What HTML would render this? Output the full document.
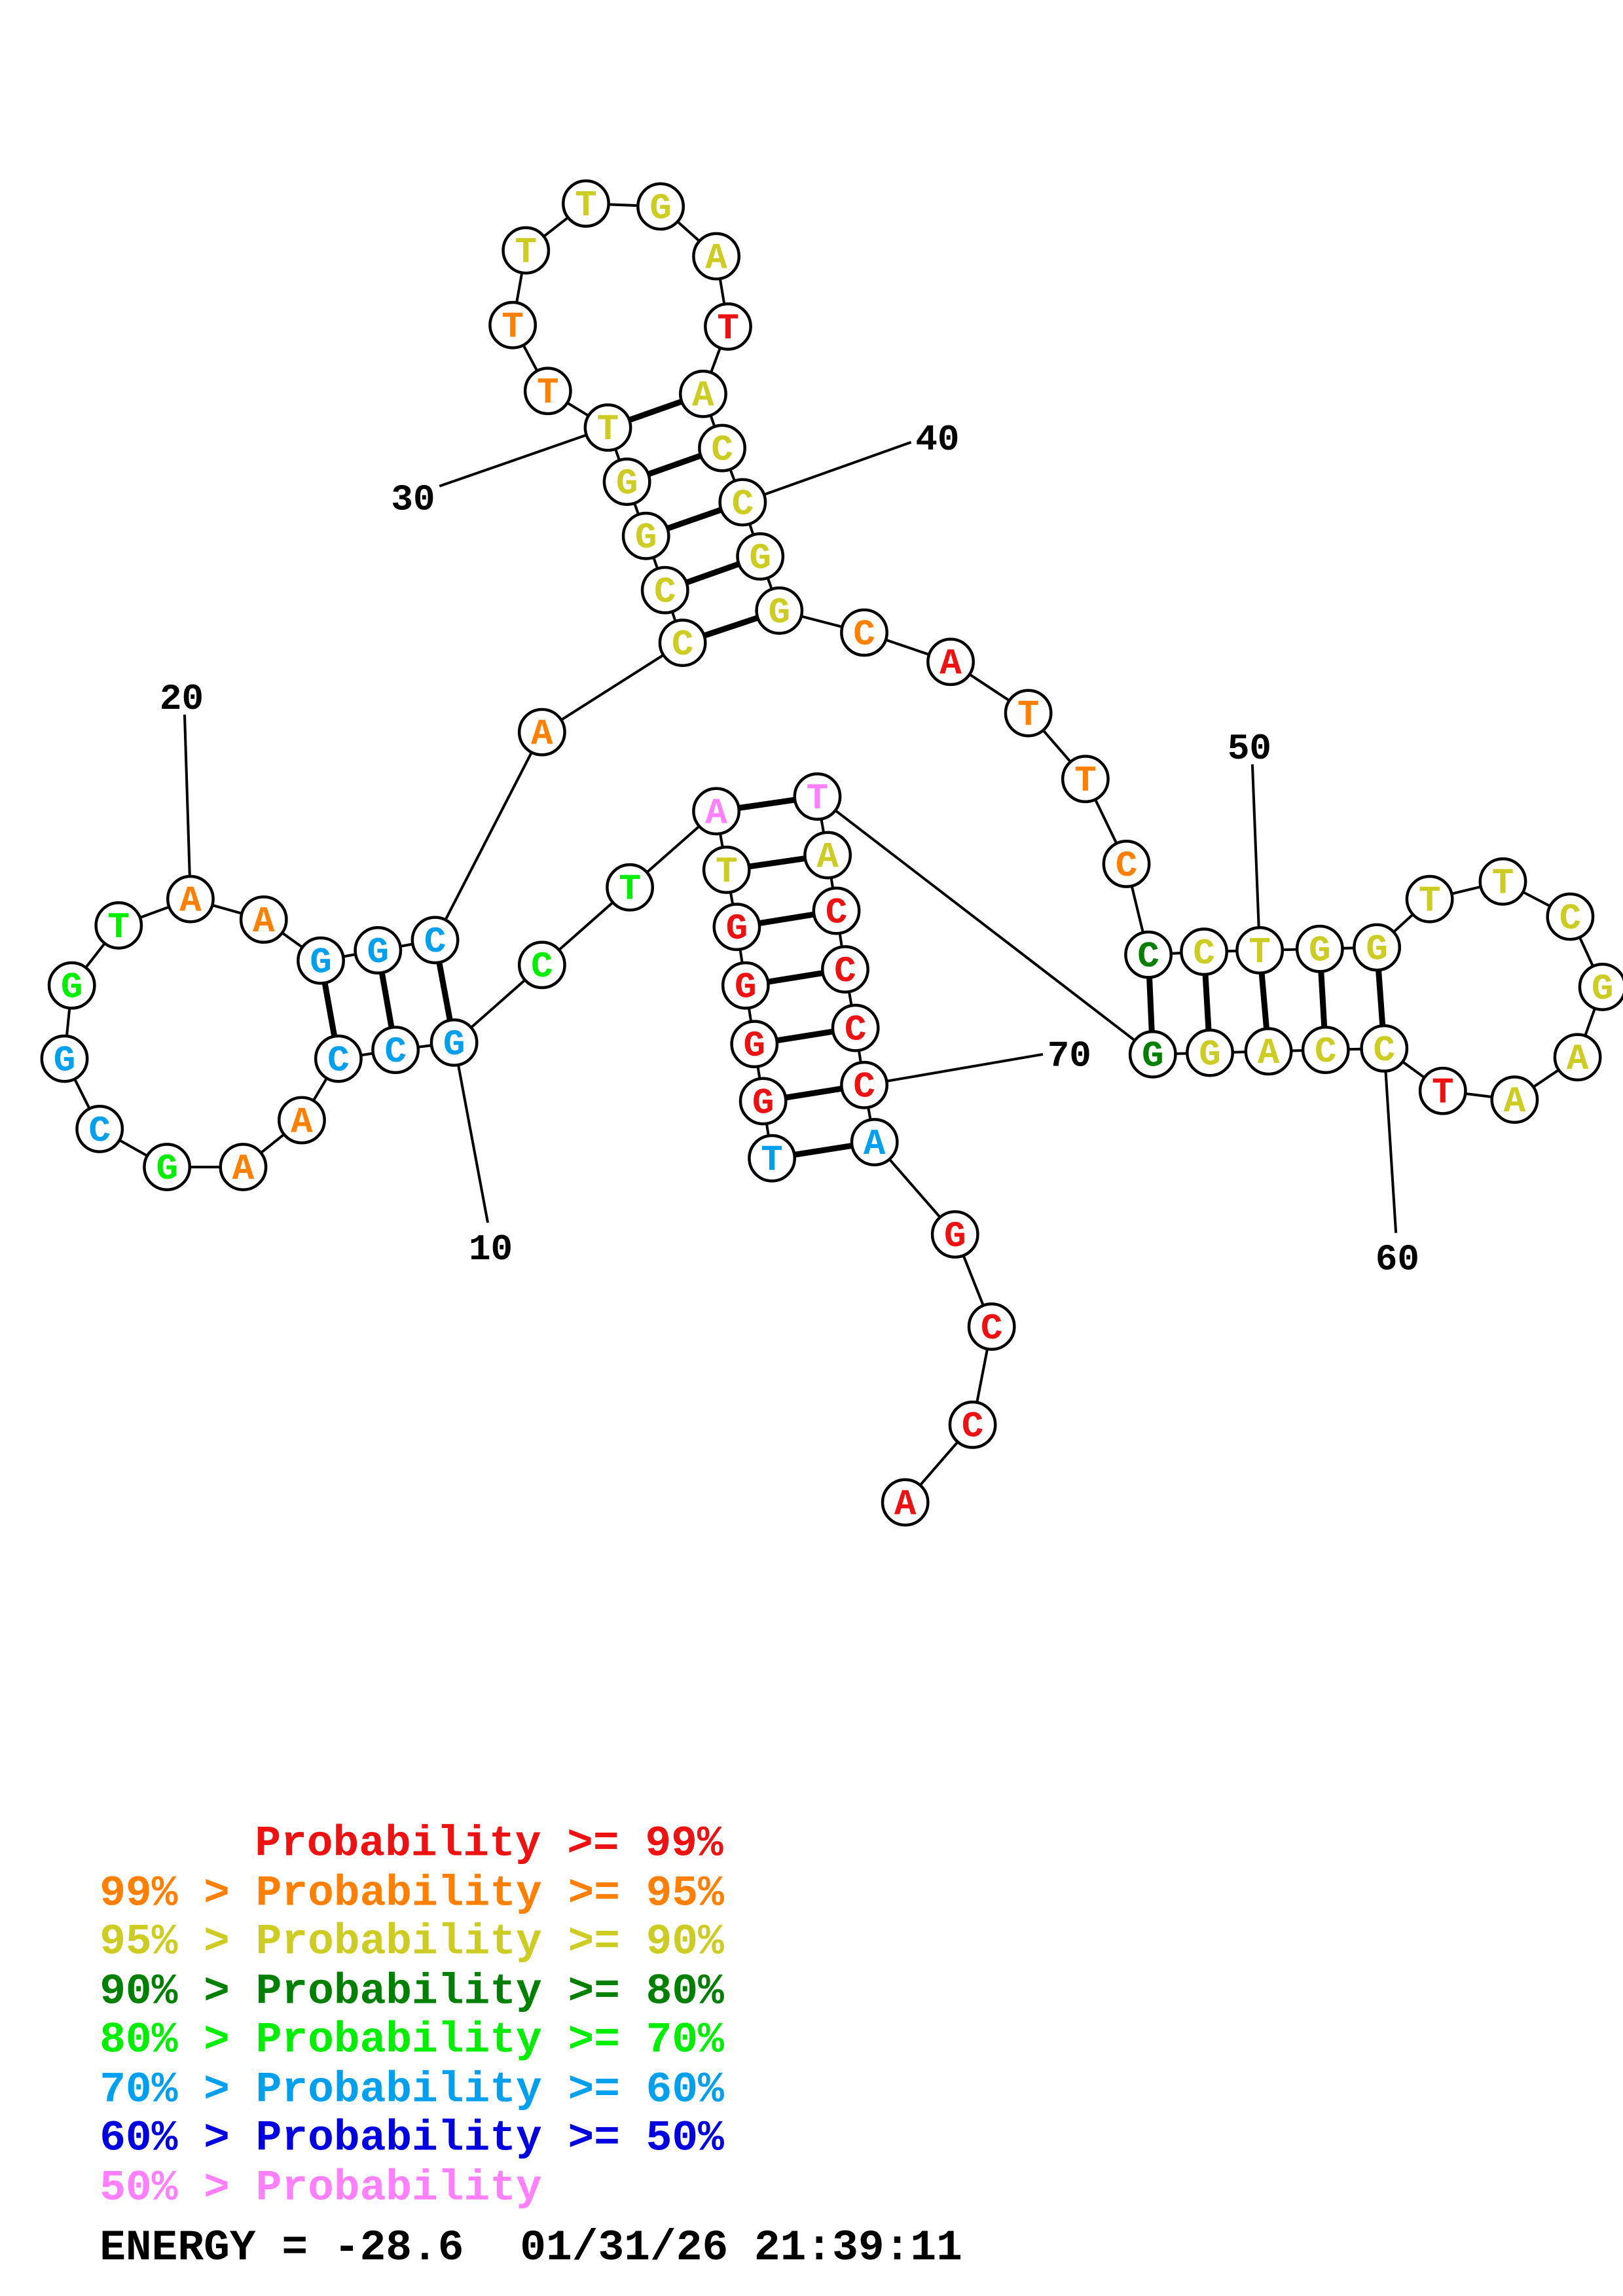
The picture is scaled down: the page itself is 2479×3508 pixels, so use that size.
<!DOCTYPE html>
<html><head><meta charset="utf-8"><style>html,body{margin:0;padding:0;background:#fff}svg{display:block}</style></head><body>
<svg xmlns="http://www.w3.org/2000/svg" width="2479" height="3508" viewBox="0 0 1108 1568">
<rect width="1108" height="1568" fill="#fff"/>
<g stroke="#000" stroke-width="1.8" fill="none">
<polyline points="527,791 521,752 515,713 509,673 503,633 496,594 489,554 430,606 370,659 310,712 270,717 231,723 206,765 166,797 114,797 68,771 44,723 49,673 81,632 130,614 180,628 219,656 258,649 297,642 370,500 466,439 454,403 441,366 428,329 415,292 374,267 350,222 359,171 400,139 451,141 489,175 497,223 480,269 493,306 507,343 519,380 532,417 590,432 649,452 702,487 741,532 769,590 784,652 822,650 860,649 901,648 940,647 976,614 1026,602 1072,626 1094,674 1077,722 1034,751 985,745 945,716 905,717 866,718 826,719 787,720 558,544 565,584 571,622 577,662 584,702 590,741 597,780 652,843 677,906 664,973 618,1026"/>
<line x1="310" y1="712" x2="333" y2="835"/>
<line x1="130" y1="614" x2="126" y2="488"/>
<line x1="415" y1="292" x2="300" y2="332"/>
<line x1="507" y1="343" x2="622" y2="302"/>
<line x1="860" y1="649" x2="855" y2="522"/>
<line x1="945" y1="716" x2="953" y2="842"/>
<line x1="590" y1="741" x2="712" y2="720"/>
</g>
<g stroke="#000" stroke-width="4">
<line x1="527" y1="791" x2="597" y2="780"/><line x1="521" y1="752" x2="590" y2="741"/><line x1="515" y1="713" x2="584" y2="702"/><line x1="509" y1="673" x2="577" y2="662"/><line x1="503" y1="633" x2="571" y2="622"/><line x1="496" y1="594" x2="565" y2="584"/><line x1="489" y1="554" x2="558" y2="544"/>
<line x1="231" y1="723" x2="219" y2="656"/><line x1="270" y1="717" x2="258" y2="649"/><line x1="310" y1="712" x2="297" y2="642"/>
<line x1="466" y1="439" x2="532" y2="417"/><line x1="454" y1="403" x2="519" y2="380"/><line x1="441" y1="366" x2="507" y2="343"/><line x1="428" y1="329" x2="493" y2="306"/><line x1="415" y1="292" x2="480" y2="269"/>
<line x1="784" y1="652" x2="787" y2="720"/><line x1="822" y1="650" x2="826" y2="719"/><line x1="860" y1="649" x2="866" y2="718"/><line x1="901" y1="648" x2="905" y2="717"/><line x1="940" y1="647" x2="945" y2="716"/>
</g>
<g fill="#fff" stroke="#000" stroke-width="2">
<circle cx="527" cy="791" r="15.5"/><circle cx="521" cy="752" r="15.5"/><circle cx="515" cy="713" r="15.5"/><circle cx="509" cy="673" r="15.5"/><circle cx="503" cy="633" r="15.5"/><circle cx="496" cy="594" r="15.5"/><circle cx="489" cy="554" r="15.5"/><circle cx="430" cy="606" r="15.5"/><circle cx="370" cy="659" r="15.5"/><circle cx="310" cy="712" r="15.5"/><circle cx="270" cy="717" r="15.5"/><circle cx="231" cy="723" r="15.5"/><circle cx="206" cy="765" r="15.5"/><circle cx="166" cy="797" r="15.5"/><circle cx="114" cy="797" r="15.5"/><circle cx="68" cy="771" r="15.5"/><circle cx="44" cy="723" r="15.5"/><circle cx="49" cy="673" r="15.5"/><circle cx="81" cy="632" r="15.5"/><circle cx="130" cy="614" r="15.5"/><circle cx="180" cy="628" r="15.5"/><circle cx="219" cy="656" r="15.5"/><circle cx="258" cy="649" r="15.5"/><circle cx="297" cy="642" r="15.5"/><circle cx="370" cy="500" r="15.5"/><circle cx="466" cy="439" r="15.5"/><circle cx="454" cy="403" r="15.5"/><circle cx="441" cy="366" r="15.5"/><circle cx="428" cy="329" r="15.5"/><circle cx="415" cy="292" r="15.5"/><circle cx="374" cy="267" r="15.5"/><circle cx="350" cy="222" r="15.5"/><circle cx="359" cy="171" r="15.5"/><circle cx="400" cy="139" r="15.5"/><circle cx="451" cy="141" r="15.5"/><circle cx="489" cy="175" r="15.5"/><circle cx="497" cy="223" r="15.5"/><circle cx="480" cy="269" r="15.5"/><circle cx="493" cy="306" r="15.5"/><circle cx="507" cy="343" r="15.5"/><circle cx="519" cy="380" r="15.5"/><circle cx="532" cy="417" r="15.5"/><circle cx="590" cy="432" r="15.5"/><circle cx="649" cy="452" r="15.5"/><circle cx="702" cy="487" r="15.5"/><circle cx="741" cy="532" r="15.5"/><circle cx="769" cy="590" r="15.5"/><circle cx="784" cy="652" r="15.5"/><circle cx="822" cy="650" r="15.5"/><circle cx="860" cy="649" r="15.5"/><circle cx="901" cy="648" r="15.5"/><circle cx="940" cy="647" r="15.5"/><circle cx="976" cy="614" r="15.5"/><circle cx="1026" cy="602" r="15.5"/><circle cx="1072" cy="626" r="15.5"/><circle cx="1094" cy="674" r="15.5"/><circle cx="1077" cy="722" r="15.5"/><circle cx="1034" cy="751" r="15.5"/><circle cx="985" cy="745" r="15.5"/><circle cx="945" cy="716" r="15.5"/><circle cx="905" cy="717" r="15.5"/><circle cx="866" cy="718" r="15.5"/><circle cx="826" cy="719" r="15.5"/><circle cx="787" cy="720" r="15.5"/><circle cx="558" cy="544" r="15.5"/><circle cx="565" cy="584" r="15.5"/><circle cx="571" cy="622" r="15.5"/><circle cx="577" cy="662" r="15.5"/><circle cx="584" cy="702" r="15.5"/><circle cx="590" cy="741" r="15.5"/><circle cx="597" cy="780" r="15.5"/><circle cx="652" cy="843" r="15.5"/><circle cx="677" cy="906" r="15.5"/><circle cx="664" cy="973" r="15.5"/><circle cx="618" cy="1026" r="15.5"/>
</g>
<g font-family="'Liberation Mono',monospace" font-weight="bold" font-size="25" text-anchor="middle" transform="translate(0,1)">
<text x="527" y="798" fill="#00a0ee">T</text><text x="521" y="759" fill="#ee1111">G</text><text x="515" y="720" fill="#ee1111">G</text><text x="509" y="680" fill="#ee1111">G</text><text x="503" y="640" fill="#ee1111">G</text><text x="496" y="601" fill="#cccc22">T</text><text x="489" y="561" fill="#ff80ff">A</text><text x="430" y="613" fill="#00ee00">T</text><text x="370" y="666" fill="#00ee00">C</text><text x="310" y="719" fill="#00a0ee">G</text><text x="270" y="724" fill="#00a0ee">C</text><text x="231" y="730" fill="#00a0ee">C</text><text x="206" y="772" fill="#ff7f00">A</text><text x="166" y="804" fill="#ff7f00">A</text><text x="114" y="804" fill="#00ee00">G</text><text x="68" y="778" fill="#00a0ee">C</text><text x="44" y="730" fill="#00a0ee">G</text><text x="49" y="680" fill="#00ee00">G</text><text x="81" y="639" fill="#00ee00">T</text><text x="130" y="621" fill="#ff7f00">A</text><text x="180" y="635" fill="#ff7f00">A</text><text x="219" y="663" fill="#00a0ee">G</text><text x="258" y="656" fill="#00a0ee">G</text><text x="297" y="649" fill="#00a0ee">C</text><text x="370" y="507" fill="#ff7f00">A</text><text x="466" y="446" fill="#cccc22">C</text><text x="454" y="410" fill="#cccc22">C</text><text x="441" y="373" fill="#cccc22">G</text><text x="428" y="336" fill="#cccc22">G</text><text x="415" y="299" fill="#cccc22">T</text><text x="374" y="274" fill="#ff7f00">T</text><text x="350" y="229" fill="#ff7f00">T</text><text x="359" y="178" fill="#cccc22">T</text><text x="400" y="146" fill="#cccc22">T</text><text x="451" y="148" fill="#cccc22">G</text><text x="489" y="182" fill="#cccc22">A</text><text x="497" y="230" fill="#ee1111">T</text><text x="480" y="276" fill="#cccc22">A</text><text x="493" y="313" fill="#cccc22">C</text><text x="507" y="350" fill="#cccc22">C</text><text x="519" y="387" fill="#cccc22">G</text><text x="532" y="424" fill="#cccc22">G</text><text x="590" y="439" fill="#ff7f00">C</text><text x="649" y="459" fill="#ee1111">A</text><text x="702" y="494" fill="#ff7f00">T</text><text x="741" y="539" fill="#ff7f00">T</text><text x="769" y="597" fill="#ff7f00">C</text><text x="784" y="659" fill="#008000">C</text><text x="822" y="657" fill="#cccc22">C</text><text x="860" y="656" fill="#cccc22">T</text><text x="901" y="655" fill="#cccc22">G</text><text x="940" y="654" fill="#cccc22">G</text><text x="976" y="621" fill="#cccc22">T</text><text x="1026" y="609" fill="#cccc22">T</text><text x="1072" y="633" fill="#cccc22">C</text><text x="1094" y="681" fill="#cccc22">G</text><text x="1077" y="729" fill="#cccc22">A</text><text x="1034" y="758" fill="#cccc22">A</text><text x="985" y="752" fill="#ee1111">T</text><text x="945" y="723" fill="#cccc22">C</text><text x="905" y="724" fill="#cccc22">C</text><text x="866" y="725" fill="#cccc22">A</text><text x="826" y="726" fill="#cccc22">G</text><text x="787" y="727" fill="#008000">G</text><text x="558" y="551" fill="#ff80ff">T</text><text x="565" y="591" fill="#cccc22">A</text><text x="571" y="629" fill="#ee1111">C</text><text x="577" y="669" fill="#ee1111">C</text><text x="584" y="709" fill="#ee1111">C</text><text x="590" y="748" fill="#ee1111">C</text><text x="597" y="787" fill="#00a0ee">A</text><text x="652" y="850" fill="#ee1111">G</text><text x="677" y="913" fill="#ee1111">C</text><text x="664" y="980" fill="#ee1111">C</text><text x="618" y="1033" fill="#ee1111">A</text>
</g>
<g font-family="'Liberation Mono',monospace" font-weight="bold" font-size="25" text-anchor="middle" fill="#000">
<text x="335" y="860">10</text><text x="124" y="484">20</text><text x="282" y="348">30</text><text x="640" y="307">40</text><text x="853" y="518">50</text><text x="954" y="867">60</text><text x="730" y="728">70</text>
</g>
<g font-family="'Liberation Mono',monospace" font-weight="bold" font-size="29.6">
<text x="174" y="1267" fill="#ee1111">Probability &gt;= 99%</text>
<text x="68" y="1301" fill="#ff7f00">99% &gt; Probability &gt;= 95%</text>
<text x="68" y="1334" fill="#cccc22">95% &gt; Probability &gt;= 90%</text>
<text x="68" y="1368" fill="#008000">90% &gt; Probability &gt;= 80%</text>
<text x="68" y="1401" fill="#00ee00">80% &gt; Probability &gt;= 70%</text>
<text x="68" y="1435" fill="#00a0ee">70% &gt; Probability &gt;= 60%</text>
<text x="68" y="1468" fill="#0000e0">60% &gt; Probability &gt;= 50%</text>
<text x="68" y="1502" fill="#ff80ff">50% &gt; Probability</text>
<text x="68" y="1543" fill="#000">ENERGY = -28.6</text>
<text x="355" y="1543" fill="#000">01/31/26 21:39:11</text>
</g>
</svg>
</body></html>
